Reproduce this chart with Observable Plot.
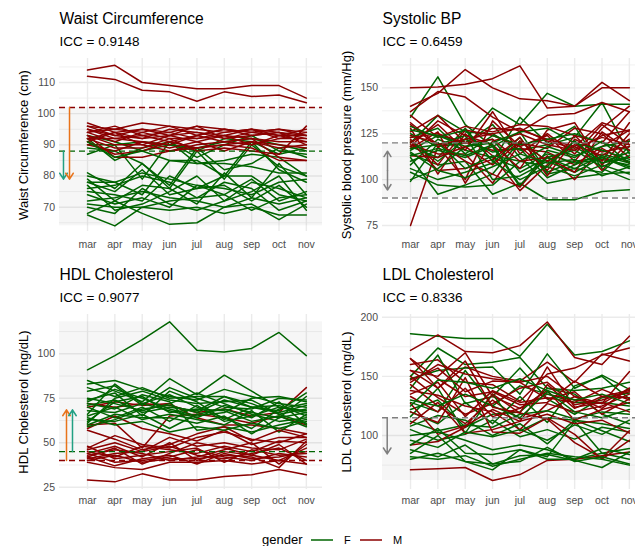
<!DOCTYPE html>
<html>
<head>
<meta charset="utf-8">
<script src="https://cdn.jsdelivr.net/npm/d3@7"></script>
<script src="https://cdn.jsdelivr.net/npm/@observablehq/plot@0.6"></script>
<style>
  html, body { margin: 0; padding: 0; background: #fff; }
  body { width: 635px; height: 546px; overflow: hidden; position: relative;
         font-family: "Liberation Sans", Arial, sans-serif; }
  .panel { position: absolute; width: 330px; }
  .panel svg { max-width: none !important; display: block; }
  #legend { position: absolute; left: 0; top: 506px; }
</style>
</head>
<body>
<div id="p0" class="panel" style="left:0px;top:0px"></div>
<div id="p1" class="panel" style="left:323px;top:0px"></div>
<div id="p2" class="panel" style="left:0px;top:256px"></div>
<div id="p3" class="panel" style="left:323px;top:256px"></div>
<svg id="legend" width="635" height="40"></svg>
<script>
// Monthly visits
const months = ["mar", "apr", "may", "jun", "jul", "aug", "sep", "oct", "nov"];
const genders = ["F", "M"];
const genderColors = ["#006400", "#8b0000"];

// Waist circumference (cm), one row per participant, mar..nov
const waistF = [
  [93, 91, 88, 90, 89, 91, 92, 90, 88],
  [92, 85, 89, 91, 86, 90, 93, 88, 87],
  [90, 90, 91, 90, 88, 92, 91, 87, 89],
  [89, 88, 84, 77, 89, 82, 84, 89, 86],
  [87, 90, 79, 91, 84, 85, 87, 86, 80],
  [81, 76, 84, 76, 88, 79, 90, 83, 80],
  [80, 78, 74, 85, 85, 80, 91, 82, 78],
  [79, 72, 77, 76, 71, 81, 73, 84, 74],
  [78, 75, 82, 74, 76, 80, 80, 74, 72],
  [77, 69, 71, 75, 80, 72, 78, 76, 73],
  [76, 77, 80, 78, 73, 74, 79, 72, 75],
  [75, 74, 72, 80, 76, 77, 72, 77, 70],
  [71, 70, 70, 72, 73, 78, 76, 69, 72],
  [70, 68, 76, 71, 69, 72, 75, 80, 69],
  [68, 72, 68, 64.5, 65, 70, 71, 66, 71],
  [67.5, 64, 70, 69, 70, 68, 70, 67.5, 67.5],
  [91, 86, 88, 85, 84, 84, 83, 81, 81],
  [78, 78, 81, 79, 77, 76, 74, 78, 79],
  [74, 71, 73, 70, 77, 74, 69, 73, 74],
  [72, 73, 75, 73, 72, 70, 73, 71, 73]
];
const waistM = [
  [114, 115.5, 110, 109, 108, 108, 109, 109, 105],
  [112, 111, 107.5, 107, 104, 107, 105.5, 106, 103.5],
  [97, 94, 95, 94, 96, 95, 94, 93, 93],
  [96, 95, 97, 96, 95, 94, 95, 92, 92],
  [95, 93, 92, 93, 94, 92, 93, 94, 93],
  [94, 91, 94, 92, 92, 93, 95, 94, 90],
  [93, 86, 86, 88, 89, 90, 89, 85, 85],
  [92, 92, 93, 91, 93, 95, 94, 95, 94],
  [92, 89, 89, 92, 88, 89, 88, 87, 96],
  [91, 94, 92, 95, 94, 93, 92, 91, 91],
  [95, 92, 91, 90, 93, 91, 92, 86, 85],
  [94, 96, 93, 94, 92, 94, 95, 93, 91],
  [93, 90, 90, 88, 90, 91, 90, 92, 94],
  [90, 88, 91, 89, 91, 88, 91, 89, 90],
  [96, 93, 95, 93, 96, 92, 94, 95, 93],
  [91, 87, 88, 91, 89, 90, 91, 90, 89],
  [94, 95, 94, 96, 93, 95, 93, 94, 92],
  [92, 94, 90, 93, 91, 93, 90, 93, 95]
];

// Systolic blood pressure (mm/Hg)
const sbpF = [
  [134, 156, 130, 118, 126, 104, 110, 112, 107],
  [125, 118, 122, 139, 130, 147, 140, 141, 141],
  [120, 135, 126, 125, 116, 119, 123, 142, 114],
  [118, 112, 128, 110, 134, 120, 129, 106, 100],
  [116, 124, 120, 130, 112, 98, 101, 103, 104],
  [114, 108, 110, 92, 98, 89, 89, 93.5, 94.5],
  [112, 92, 97, 103, 121, 110, 118, 109, 112],
  [110, 116, 112, 118, 96, 116, 112, 121, 109],
  [108, 122, 116, 112, 106, 114, 109, 111, 108],
  [106, 100, 104, 109, 123, 103, 106, 104, 118],
  [104, 97, 96, 97, 110, 107, 102, 108, 103],
  [100, 106, 118, 122, 104, 112, 116, 107, 113],
  [121, 110, 122, 115, 117, 101, 108, 114, 110],
  [123, 128, 114, 124, 119, 122, 125, 120, 116],
  [117, 119, 124, 100, 102, 110, 104, 112, 106],
  [99, 120, 106, 113, 110, 118, 113, 118, 121],
  [127, 124, 118, 120, 126, 128, 120, 116, 111],
  [115, 105, 101, 107, 114, 109, 111, 102, 107],
  [129, 123, 127, 110, 100, 107, 121, 109, 115],
  [113, 117, 113, 119, 97, 112, 106, 113, 109]
];
const sbpM = [
  [150, 150.5, 152, 155, 162, 139, 140, 150, 150],
  [140, 147, 160, 150, 144, 143, 140, 153, 143],
  [75, 118, 120, 116, 117, 115, 108, 118, 127],
  [137, 148, 145, 134, 126, 135, 136, 142, 137],
  [130, 118, 100, 132, 118, 124, 110, 128, 140],
  [128, 103, 125, 113, 94, 108, 121, 105, 121],
  [126, 135, 120, 128, 127, 122, 118, 131, 126],
  [124, 120, 110, 103, 96, 113, 100, 117, 109],
  [122, 108, 127, 124, 118, 105, 124, 110, 131],
  [120, 130, 116, 137, 114, 125, 114, 130, 119],
  [119, 114, 114, 98, 120, 117, 128, 125, 112],
  [117, 126, 98, 121, 125, 119, 116, 124, 127],
  [135, 123, 129, 126, 130, 129, 124, 120, 137],
  [121, 105, 106, 111, 123, 102, 122, 115, 118],
  [118, 132, 124, 119, 106, 127, 131, 108, 125],
  [123, 125, 120, 122, 110, 112, 104, 126, 116],
  [113, 112, 118, 108, 121, 110, 119, 113, 122],
  [131, 119, 122, 125, 128, 121, 117, 123, 119]
];

// HDL cholesterol (mg/dL)
const hdlF = [
  [91, 99, 108, 118, 102, 101, 103, 112, 99],
  [85, 79, 73, 86, 77, 88, 79, 70, 68],
  [83, 85, 80, 76, 74, 80, 76, 72, 70],
  [81, 76, 81, 75, 76, 76, 70, 68, 78],
  [79, 82, 71, 81, 75, 70, 69, 75, 74],
  [75, 72, 68, 72, 78, 72, 66, 62, 64],
  [73, 80, 75, 69, 65, 67, 75, 76, 73],
  [72, 69, 77, 73, 57, 59, 56, 60, 63],
  [71, 74, 67, 70, 68, 76, 72, 66, 61],
  [70, 64, 70, 62, 71, 62, 65, 70, 67],
  [66, 83, 72, 77, 70, 64, 58, 69, 72],
  [65, 70, 63, 66, 63, 60, 68, 56, 66],
  [63, 62, 66, 58, 66, 69, 64, 73, 60],
  [61, 75, 79, 74, 72, 73, 74, 66, 69],
  [60, 66, 64, 64, 61, 65, 55, 64, 76],
  [59, 63, 69, 71, 67, 74, 70, 71, 65],
  [64, 60, 62, 56, 59, 57, 61, 58, 62],
  [68, 67, 72, 68, 64, 71, 67, 64, 67],
  [74, 78, 65, 79, 73, 63, 70, 67, 71],
  [62, 73, 76, 67, 69, 68, 62, 65, 59]
];
const hdlM = [
  [72, 70, 72, 71, 67, 69, 65, 67, 81],
  [70, 73, 71, 72, 64, 60, 60, 58, 55],
  [60, 61, 47, 65, 66, 64, 61, 65, 60],
  [58, 65, 58, 55, 51, 57, 49, 53, 53],
  [47, 54, 49, 47, 53, 56, 52, 50, 55],
  [46, 50, 45, 53, 48, 50, 47, 46, 52],
  [45, 42, 48, 46, 44, 48, 45, 51, 50],
  [44, 48, 42, 50, 40, 45, 43, 40, 47],
  [44, 39, 40, 42, 46, 42, 40, 44, 42],
  [43, 46, 44, 40, 42, 46, 50, 38, 49],
  [42, 37, 41, 43, 38, 44, 41, 42, 45],
  [41, 44, 45, 48, 43, 41, 44, 47, 40],
  [40, 43, 39, 41, 41, 43, 42, 36, 51],
  [39, 36, 35, 39, 39, 40, 38, 40, 38],
  [29, 28, 32.5, 29, 29, 31, 32, 35, 32],
  [57, 52, 46, 49, 55, 59, 51, 57, 53],
  [48, 41, 43, 45, 47, 39, 46, 43, 44],
  [42, 47, 38, 44, 50, 47, 43, 49, 38]
];

// LDL cholesterol (mg/dL)
const ldlF = [
  [186, 184, 182, 182, 167, 194, 168, 171, 180],
  [150, 174, 160, 162, 166, 140, 138, 140, 145],
  [148, 155, 157, 158, 135, 169, 140, 151, 139],
  [140, 168, 127, 133, 157, 131, 118, 132, 136],
  [128, 120, 155, 125, 142, 135, 128, 128, 125],
  [122, 130, 107, 118, 120, 140, 135, 118, 110],
  [120, 110, 128, 110, 133, 111, 142, 150, 131],
  [116, 140, 102, 135, 104, 115, 113, 110, 106],
  [112, 104, 109, 107, 118, 121, 114, 120, 118],
  [108, 117, 113, 100, 110, 93, 113, 104, 95],
  [105, 96, 101, 113, 99, 105, 97, 107, 103],
  [100, 103, 96, 88, 92, 88, 80, 85, 89],
  [92, 106, 85, 84, 88, 82, 112, 85, 80],
  [88, 82, 92, 76, 83, 84, 79, 73, 86],
  [85, 100, 78, 71, 88, 80, 80, 89, 84],
  [82, 80, 83, 74, 80, 85, 82, 80, 75],
  [80, 85, 78, 76, 78, 90, 78, 82, 76],
  [130, 125, 135, 125, 115, 137, 120, 115, 122],
  [125, 147, 145, 140, 148, 138, 130, 135, 127],
  [96, 90, 103, 99, 105, 96, 109, 101, 113]
];
const ldlM = [
  [172, 185, 171, 170, 176, 196, 166, 160, 184],
  [165, 140, 158, 150, 146, 162, 145, 169, 163],
  [160, 164, 145, 143, 129, 152, 157, 168, 174],
  [155, 150, 170, 133, 123, 135, 130, 127, 154],
  [150, 132, 118, 127, 140, 145, 126, 130, 137],
  [147, 157, 137, 146, 145, 131, 137, 118, 131],
  [143, 125, 110, 130, 114, 121, 133, 127, 140],
  [138, 134, 125, 120, 105, 127, 120, 125, 135],
  [133, 120, 140, 116, 123, 138, 113, 122, 128],
  [127, 101, 108, 122, 112, 143, 123, 133, 138],
  [120, 111, 149, 103, 102, 115, 101, 80, 96],
  [92, 95, 107, 135, 119, 114, 94, 81, 104],
  [71, 72, 73, 62, 67, 79, 80, 83, 86],
  [165, 148, 133, 137, 126, 128, 146, 133, 132],
  [145, 160, 152, 148, 145, 150, 133, 123, 140],
  [110, 128, 102, 105, 112, 118, 110, 113, 102],
  [135, 145, 116, 138, 128, 132, 128, 139, 130],
  [155, 140, 163, 124, 119, 158, 124, 128, 120]
];

// Reference cut-offs
const waistCutoffs = [{gender: "M", y: 102}, {gender: "F", y: 88}];
const hdlCutoffs = [{gender: "M", y: 40}, {gender: "F", y: 45}];
const sbpLimits = [90, 120];
const ldlLimit = [115];

const arrowOrange = "#e8731a";
const arrowTeal = "#22a083";
const refGray = "#7f7f7f";

// long format: one row per participant and visit, sexes interleaved
function toRows(F, M) {
  const rows = [];
  const n = Math.max(F.length, M.length);
  for (let i = 0; i < n; i++) {
    for (const [S, g] of [[F, "F"], [M, "M"]]) {
      if (S[i]) S[i].forEach((v, m) => rows.push({id: g + i, gender: g, month: m, value: v}));
    }
  }
  return rows;
}

const xDomain = [-1.024, 8.59];
const allVals = (F, M) => F.concat(M).flat();

const specs = [
  {
    el: "p0", title: "Waist Circumference", icc: "ICC = 0.9148", ylab: "Waist Circumference (cm)",
    F: waistF, M: waistM, yDomain: [62.2, 117.7],
    yTicks: [70, 80, 90, 100, 110], yMinor: [65, 75, 85, 95, 105, 115],
    band: [d3.min(allVals(waistF, waistM)), 102],
    refs: waistCutoffs, grayRefs: [],
    arrows: [
      {x: -0.878, y1: 88, y2: 79, color: arrowTeal},
      {x: -0.658, y1: 102, y2: 79, color: arrowOrange}
    ],
    height: 256, panelH: 173, xPad: 9.5
  },
  {
    el: "p1", title: "Systolic BP", icc: "ICC = 0.6459", ylab: "Systolic blood pressure (mm/Hg)",
    F: sbpF, M: sbpM, yDomain: [71.7, 166],
    yTicks: [75, 100, 125, 150], yMinor: [87.5, 112.5, 137.5, 162.5],
    band: sbpLimits,
    refs: [], grayRefs: sbpLimits,
    arrows: [
      {x: -0.841, y1: 105, y2: 115.5, color: refGray},
      {x: -0.841, y1: 105, y2: 94.3, color: refGray}
    ],
    height: 256, panelH: 173, xPad: 9.5
  },
  {
    el: "p2", title: "HDL Cholesterol", icc: "ICC = 0.9077", ylab: "HDL Cholesterol (mg/dL)",
    F: hdlF, M: hdlM, yDomain: [23.7, 122.1],
    yTicks: [25, 50, 75, 100], yMinor: [37.5, 62.5, 87.5, 112.5],
    band: [40, d3.max(allVals(hdlF, hdlM))],
    refs: hdlCutoffs, grayRefs: [],
    arrows: [
      {x: -0.768, y1: 40, y2: 68.5, color: arrowOrange},
      {x: -0.549, y1: 45, y2: 68.5, color: arrowTeal}
    ],
    height: 258, panelH: 175, xPad: 7
  },
  {
    el: "p3", title: "LDL Cholesterol", icc: "ICC = 0.8336", ylab: "LDL Cholesterol (mg/dL)",
    F: ldlF, M: ldlM, yDomain: [54.4, 202.3],
    yTicks: [100, 150, 200], yMinor: [75, 125, 175],
    band: [d3.min(allVals(ldlF, ldlM)), 115],
    refs: [], grayRefs: ldlLimit,
    arrows: [
      {x: -0.852, y1: 115, y2: 84.5, color: refGray}
    ],
    height: 258, panelH: 175, xPad: 7
  }
];

for (const s of specs) {
  const rows = toRows(s.F, s.M);
  const chart = Plot.plot({
    width: 330,
    height: s.height,
    marginLeft: 59,
    marginRight: 8,
    marginTop: 58,
    marginBottom: s.height - 58 - s.panelH,
    style: {fontFamily: "'Liberation Sans', Arial, sans-serif", background: "transparent", overflow: "visible", maxWidth: "none"},
    x: {domain: xDomain},
    y: {domain: s.yDomain},
    color: {domain: genders, range: genderColors},
    marks: [
      // grid
      Plot.ruleY(s.yMinor, {stroke: "#ebebeb", strokeWidth: 0.7}),
      Plot.ruleY(s.yTicks, {stroke: "#ebebeb", strokeWidth: 1.4}),
      Plot.ruleX(d3.range(months.length), {stroke: "#ebebeb", strokeWidth: 1.4}),
      // healthy-range band
      Plot.rect([s.band], {x1: xDomain[0], x2: xDomain[1], y1: d => d[0], y2: d => d[1], fill: "#000", fillOpacity: 0.035}),
      // participant trajectories
      Plot.line(rows, {x: "month", y: "value", z: "id", stroke: "gender", strokeWidth: 1.5}),
      // cut-off lines
      Plot.ruleY(s.refs, {y: "y", stroke: "gender", strokeWidth: 1.4, strokeDasharray: "6,4"}),
      Plot.ruleY(s.grayRefs, {stroke: refGray, strokeWidth: 1.4, strokeDasharray: "6,4"}),
      ...s.arrows.map(a => Plot.arrow([a], {x1: "x", x2: "x", y1: "y1", y2: "y2", stroke: a.color, strokeWidth: 1.5, headLength: 7, headAngle: 65})),
      // axes
      Plot.axisY(s.yTicks, {tickSize: 0, tickPadding: 4.5, fontSize: 10.5, color: "#4d4d4d", label: null}),
      Plot.axisX(d3.range(months.length), {tickFormat: i => months[i], tickSize: 0, tickPadding: s.xPad, fontSize: 10.5, color: "#4d4d4d", label: null}),
      Plot.text([s.ylab], {text: d => d, frameAnchor: "left", dx: -36, rotate: -90, textAnchor: "middle", lineAnchor: "middle", fontSize: 13, fill: "#000"}),
      // title and subtitle
      Plot.text([s.title], {text: d => d, frameAnchor: "top-left", dy: -34.3, textAnchor: "start", lineAnchor: "bottom", fontSize: 15.6, fill: "#000"}),
      Plot.text([s.icc], {text: d => d, frameAnchor: "top-left", dy: -12.3, textAnchor: "start", lineAnchor: "bottom", fontSize: 13.5, fill: "#000"})
    ]
  });
  document.getElementById(s.el).appendChild(chart);
}

// gender legend
const legend = d3.select("#legend").style("font-family", "'Liberation Sans', Arial, sans-serif");
legend.append("text").attr("x", 262).attr("y", 38).attr("font-size", 13).attr("fill", "#000").text("gender");
const keyX = [311, 360];
genders.forEach((g, i) => {
  legend.append("line").attr("x1", keyX[i]).attr("x2", keyX[i] + 22).attr("y1", 34).attr("y2", 34)
    .attr("stroke", genderColors[i]).attr("stroke-width", 1.5);
  legend.append("text").attr("x", keyX[i] + 33).attr("y", 38).attr("font-size", 11).attr("fill", "#000").text(g);
});
</script>
</body>
</html>
